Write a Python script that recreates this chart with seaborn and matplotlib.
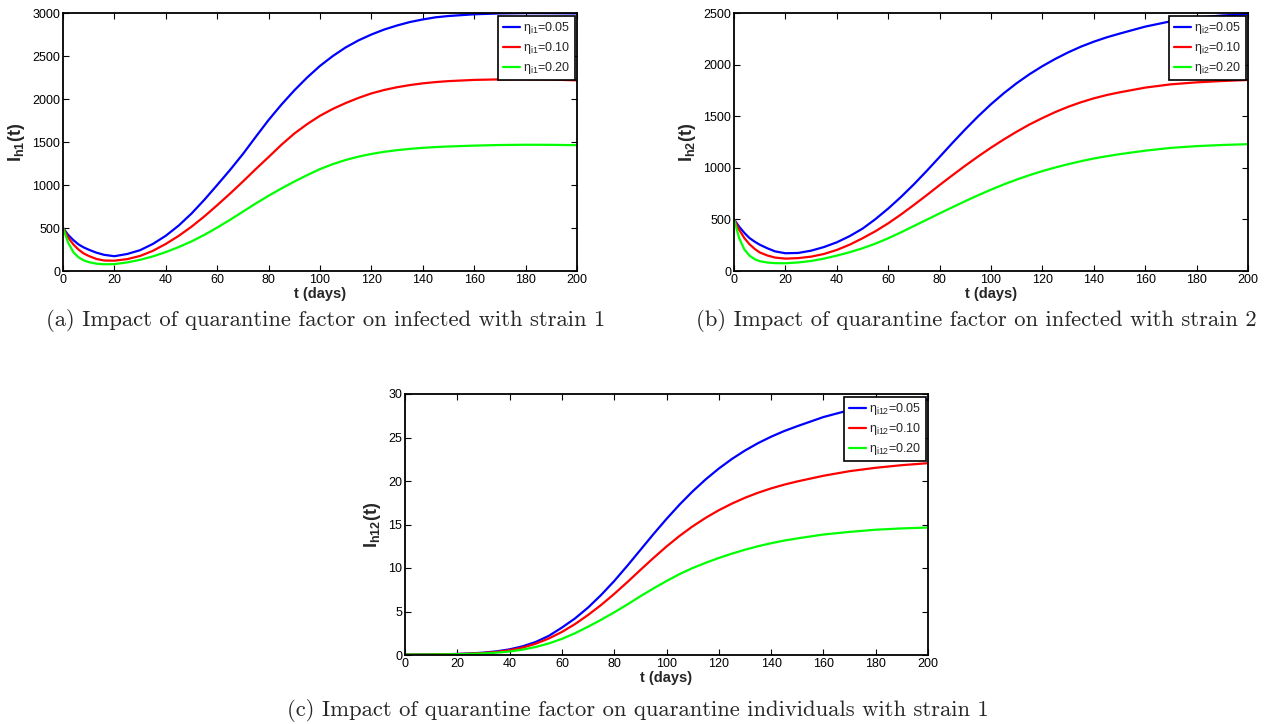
import numpy as np
import pandas as pd
import matplotlib
matplotlib.use("Agg")
import matplotlib.pyplot as plt
import seaborn as sns

# ---------------- data ----------------
t_days = [0, 2, 4, 6, 8, 10, 13, 16, 20, 25, 30, 35, 40, 45, 50, 55, 60, 65, 70, 75,
          80, 85, 90, 95, 100, 105, 110, 115, 120, 125, 130, 135, 140, 145, 150,
          160, 170, 180, 190, 200]

a_blue = [500, 420, 360, 310, 275, 248, 213, 188, 172, 198, 242, 315, 410, 528, 668, 828,
          1000, 1175, 1360, 1560, 1756, 1935, 2100, 2250, 2385, 2500, 2600, 2682, 2750,
          2808, 2855, 2895, 2925, 2950, 2965, 2985, 2995, 2998, 2997, 2995]
a_red = [500, 390, 310, 250, 205, 175, 140, 122, 120, 138, 175, 235, 315, 408, 515, 635,
         765, 900, 1040, 1185, 1325, 1468, 1598, 1708, 1805, 1885, 1953, 2013, 2065,
         2105, 2137, 2162, 2182, 2197, 2208, 2222, 2228, 2229, 2225, 2217]
a_green = [500, 330, 220, 160, 125, 103, 85, 78, 80, 100, 130, 170, 220, 278, 344, 420,
           505, 595, 690, 785, 875, 960, 1040, 1115, 1185, 1243, 1291, 1330, 1361,
           1386, 1405, 1420, 1432, 1441, 1448, 1458, 1465, 1468, 1467, 1463]

b_blue = [500, 430, 370, 320, 285, 255, 220, 190, 172, 175, 197, 232, 278, 338, 410, 502,
          605, 718, 840, 970, 1105, 1241, 1373, 1499, 1616, 1723, 1820, 1907, 1985,
          2055, 2118, 2174, 2222, 2264, 2300, 2368, 2420, 2455, 2476, 2488]
b_red = [500, 400, 320, 260, 215, 180, 150, 130, 120, 125, 139, 165, 204, 255, 317, 385,
         462, 548, 640, 735, 833, 928, 1021, 1110, 1195, 1275, 1350, 1420, 1482,
         1540, 1591, 1635, 1673, 1705, 1731, 1777, 1809, 1828, 1841, 1851]
b_green = [500, 320, 210, 150, 115, 95, 82, 76, 75, 83, 97, 120, 149, 182, 220, 265,
           317, 375, 436, 497, 558, 618, 677, 734, 788, 839, 886, 929, 968,
           1003, 1035, 1064, 1090, 1112, 1132, 1166, 1193, 1210, 1221, 1229]

c_blue = [0.05, 0.05, 0.05, 0.06, 0.06, 0.07, 0.08, 0.10, 0.12, 0.18, 0.27, 0.42, 0.65,
          1.0, 1.5, 2.2, 3.15, 4.2, 5.45, 6.9, 8.5, 10.25, 12.07, 13.89, 15.64, 17.29, 18.81,
          20.19, 21.43, 22.53, 23.5, 24.35, 25.09, 25.74, 26.3, 27.35, 28.15, 28.7, 29.1, 29.35]
c_red = [0.05, 0.05, 0.05, 0.06, 0.06, 0.07, 0.08, 0.09, 0.11, 0.16, 0.23, 0.36, 0.55,
         0.85, 1.3, 1.9, 2.65, 3.55, 4.6, 5.75, 7.02, 8.37, 9.77, 11.15, 12.47, 13.69, 14.79,
         15.77, 16.64, 17.4, 18.07, 18.65, 19.15, 19.58, 19.95, 20.6, 21.13, 21.52, 21.82, 22.05]
c_green = [0.05, 0.05, 0.05, 0.05, 0.06, 0.06, 0.07, 0.08, 0.09, 0.13, 0.18, 0.27, 0.4,
           0.62, 0.92, 1.33, 1.85, 2.5, 3.25, 4.05, 4.9, 5.8, 6.75, 7.65, 8.5, 9.3, 10.0,
           10.6, 11.15, 11.65, 12.1, 12.5, 12.85, 13.15, 13.4, 13.85, 14.15, 14.4, 14.55, 14.65]

eta_values = ["0.05", "0.10", "0.20"]
ylabels = [r"$\mathbf{I_{h1}(t)}$", r"$\mathbf{I_{h2}(t)}$", r"$\mathbf{I_{h12}(t)}$"]
subs = ["i1", "i2", "i12"]
ylims = [(0, 3000), (0, 2500), (0, 30)]
yticks = [list(range(0, 3001, 500)), list(range(0, 2501, 500)), list(range(0, 31, 5))]
xticks = list(range(0, 201, 20))
captions = ["(a) Impact of quarantine factor on infected with strain 1",
            "(b) Impact of quarantine factor on infected with strain 2",
            "(c) Impact of quarantine factor on quarantine individuals with strain 1"]

# ---------------- style ----------------
sns.set_style("ticks")
plt.rcParams["font.family"] = ["Liberation Sans", "DejaVu Sans"]
plt.rcParams["mathtext.fontset"] = "custom"
plt.rcParams["mathtext.rm"] = "Liberation Sans"
plt.rcParams["mathtext.it"] = "Liberation Sans"
plt.rcParams["mathtext.bf"] = "Liberation Sans:bold"

W, H = 1272, 724
fig = plt.figure(figsize=(W / 100, H / 100), dpi=100)

def box(l, t, r, b):
    return [l / W, 1 - b / H, (r - l) / W, (b - t) / H]

axes_pos = [box(63, 13, 577, 271), box(734, 13, 1248, 271), box(405, 394, 928, 655)]
series = [(a_blue, a_red, a_green), (b_blue, b_red, b_green), (c_blue, c_red, c_green)]
palette = ["#0000ff", "#ff0000", "#00ff00"]

for i in range(3):
    ax = fig.add_axes(axes_pos[i])
    labels = ["η$_{\\mathrm{%s}}$=%s" % (subs[i], e) for e in eta_values]
    frames = []
    for lab, vals in zip(labels, series[i]):
        frames.append(pd.DataFrame({"t": t_days, "y": vals, "series": lab}))
    df = pd.concat(frames, ignore_index=True)
    sns.lineplot(data=df, x="t", y="y", hue="series", palette=palette,
                 linewidth=1.6, ax=ax, sort=False)
    ax.set_xlim(0, 200)
    ax.set_ylim(*ylims[i])
    ax.set_xticks(xticks)
    ax.set_yticks(yticks[i])
    ax.tick_params(direction="in", top=True, right=True, length=4.5, width=0.8,
                   labelsize=9, pad=2, colors="black")
    for s in ax.spines.values():
        s.set_linewidth(1.3)
        s.set_color("black")
    ax.set_xlabel("t (days)", fontsize=10.5, fontweight="bold", labelpad=1)
    ax.set_ylabel(ylabels[i], fontsize=13, labelpad=4)
    leg = ax.legend(loc="upper right", fontsize=9, frameon=True, fancybox=False,
                    borderaxespad=0.2, handlelength=1.4, handletextpad=0.2,
                    borderpad=0.35, labelspacing=0.32, title=None)
    leg.get_frame().set_edgecolor("black")
    leg.get_frame().set_linewidth(1.2)
    leg.get_frame().set_alpha(1)

cap_pos = [(326, 320), (976, 320), (638, 711)]
for (cx, cy), txt in zip(cap_pos, captions):
    fig.text(cx / W, 1 - cy / H, txt, ha="center", va="center",
             fontsize=16.3, family=["cmr10", "DejaVu Serif"])

fig.savefig("out.png", dpi=100)
